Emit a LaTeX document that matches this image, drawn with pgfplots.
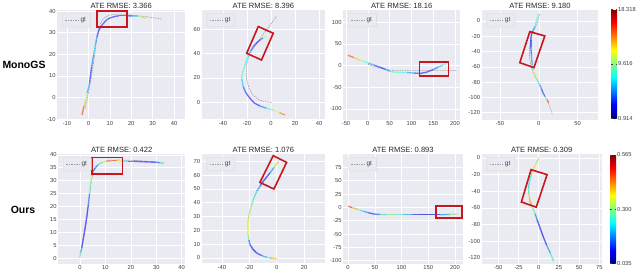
\documentclass[border=0pt]{standalone}
\usepackage{fontspec}
\setmainfont{Liberation Sans}
\usepackage{pgfplots}
\pgfplotsset{compat=1.18}
\definecolor{sbbg}{HTML}{EAEAF2}
\definecolor{tickc}{HTML}{404040}
\definecolor{rectred}{HTML}{C8161E}
\pgfplotsset{
  traj/.style={
    scale only axis, anchor=north west,
    axis background/.style={fill=sbbg},
    grid=major, major grid style={white, line width=0.5bp},
    axis line style={draw=none},
    major tick length=0pt,
    tick label style={font=\fontsize{5.8}{6}\selectfont, text=tickc},
    /pgf/number format/assume math mode=true,
    xticklabel style={inner sep=1.5bp},
    yticklabel style={inner sep=1.5bp},
    every axis title/.style={font=\fontsize{7.6}{8}\selectfont, text=black!85, at={(0.5,1)}, anchor=south, inner sep=1.2bp},
    colormap/jet, point meta min=0, point meta max=1,
    legend style={at={(0,1)}, xshift=5bp, yshift=-3.5bp, anchor=north west, font=\fontsize{6.4}{7}\selectfont, text=tickc, fill=sbbg, draw=black!15, rounded corners=1.2bp, inner xsep=2.5bp, inner ysep=2bp},
    legend cell align=left,
    legend image code/.code={\draw[#1] (0bp,0bp) -- (13bp,0bp);},
    clip=false,
  },
  est/.style={mesh, point meta=explicit, line width=1.35bp, opacity=0.55, forget plot},
  gt/.style={color=gray!75, line width=0.6bp, dash pattern=on 1.5bp off 1bp},
  box/.style={draw=rectred, line width=1.6bp, line join=miter, forget plot},
  cbar/.style={hide axis, scale only axis, width=1bp, height=109bp, anchor=north east,
    xmin=0, xmax=1, ymin=0, ymax=1, colormap/jet, colorbar,
    colorbar shift/.style={},
    colorbar style={at={(parent axis.north east)}, anchor=north west,
      width=6bp, height=109bp, scale only axis,
      yticklabel style={font=\fontsize{5.8}{6}\selectfont, text=tickc, inner sep=1bp},
      /pgf/number format/assume math mode=true,
      major tick length=1.5bp, tick style={draw=tickc, line width=0.4bp}, axis line style={draw=none}}},
}
\begin{document}
\begin{tikzpicture}
\useasboundingbox (0bp,0bp) rectangle (640bp,-275bp);

\node[font=\bfseries\fontsize{10.5}{12}\selectfont] at (24bp,-65bp) {MonoGS};
\node[font=\bfseries\fontsize{10.5}{12}\selectfont] at (23bp,-210bp) {Ours};

% ---------------- Row 1, panel 1
\begin{axis}[traj, at={(57.3bp,-9.5bp)}, width=127.7bp, height=110bp,
  xmin=-14.5, xmax=45.1, ymin=-10.2, ymax=40.7,
  xtick={-10,0,10,20,30,40}, ytick={-10,0,10,20,30,40},
  title={ATE RMSE: 3.366}]
\addplot[gt] coordinates {(-1.5,-5) (0,2) (1.5,10) (3,20) (4,28) (5.5,34) (7,36.5) (9.6,38.1) (14.3,38.6) (20.5,38.1) (26.8,37.4) (34.3,36.3)};
\addlegendentry{gt}
\addplot[est] table[meta=c] {
x y c
-3 -8 0.9
-2 -4 0.75
-1.2 -1 0.62
-0.5 2 0.4
0.5 6.5 0.15
1.5 14 0.15
2.5 20 0.3
3.2 24 0.35
4 28 0.2
4.9 31.2 0.12
6.4 33.5 0.12
8 35.4 0.15
9.6 36.6 0.15
12 37.4 0.15
14.3 37.8 0.15
18 37.8 0.15
21 37.7 0.2
23 37.6 0.4
25 37.2 0.6
26.8 36.6 0.75
};
\addplot[box] coordinates {(3.9,40) (18,40) (18,32.5) (3.9,32.5)} -- cycle;
\end{axis}

% ---------------- Row 1, panel 2
\begin{axis}[traj, at={(201.7bp,-9.5bp)}, width=123.3bp, height=110bp,
  xmin=-57.7, xmax=45, ymin=-14.1, ymax=76.3,
  xtick={-40,-20,0,20,40}, ytick={0,20,40,60},
  title={ATE RMSE: 8.396}]
\addplot[gt] coordinates {(0.5,0) (-5,0.5) (-10,2) (-15,6) (-18.5,12) (-20.5,20) (-20.5,30) (-18.5,38) (-15,44) (-10,51) (-5,58) (0,64.5) (4.75,71)};
\addlegendentry{gt}
\addplot[est] table[meta=c] {
x y c
11.7 -10.4 0.85
7 -8.5 0.7
1.9 -6.3 0.5
-4 -4.8 0.3
-9.2 -3 0.15
-14 -0.5 0.12
-17.5 3.3 0.12
-21 8 0.15
-23.1 12.8 0.2
-24.4 19.7 0.4
-23.5 25 0.45
-21.7 30.6 0.4
-18.9 38.9 0.35
-16.8 42.5 0.25
-14.75 45.7 0.15
-12 48.8 0.12
-9.2 51.2 0.12
-6.5 53 0.3
-3.6 54.5 0.8
};
\addplot[box] coordinates {(-20.25,40.3) (-10.6,62.3) (1.9,56.8) (-7.9,34.8)} -- cycle;
\end{axis}

% ---------------- Row 1, panel 3
\begin{axis}[traj, at={(343.3bp,-9.5bp)}, width=116.7bp, height=110bp,
  xmin=-56.2, xmax=211.5, ymin=-124.2, ymax=129.5,
  xtick={-50,0,50,100,150,200}, ytick={-100,-50,0,50,100},
  title={ATE RMSE: 18.16}]
\addplot[gt] coordinates {(0,3) (25,-5) (50,-10) (70,-11.5) (204,-11.5)};
\addlegendentry{gt}
\addplot[est] table[meta=c] {
x y c
-45.7 24 0.9
-32 18.5 0.75
-17.7 12.5 0.62
-8 9 0.45
1.4 6 0.35
15 1 0.2
28 -3.5 0.12
40 -8.5 0.15
51 -13 0.35
62 -15 0.45
74 -15.5 0.45
90 -16 0.35
105 -17 0.2
120 -18 0.12
135 -15 0.12
150 -9 0.15
162 -3 0.25
172 1.5 0.4
180 5 0.5
};
\addplot[box] coordinates {(118.3,8.5) (185,8.5) (185,-23.7) (118.3,-23.7)} -- cycle;
\end{axis}

% ---------------- Row 1, panel 4
\begin{axis}[traj, at={(481.7bp,-9.5bp)}, width=116.6bp, height=110bp,
  xmin=-73.5, xmax=76.5, ymin=-128.9, ymax=15,
  xtick={-50,0,50}, ytick={-120,-100,-80,-60,-40,-20,0},
  title={ATE RMSE: 9.180}]
\addplot[gt] coordinates {(1,9) (-2,-3) (-6,-12) (-10,-20) (-12,-35) (-12,-48) (-10,-60) (-6,-70) (0,-82) (6,-95) (12,-106) (17.6,-123)};
\addlegendentry{gt}
\addplot[est] table[meta=c] {
x y c
-0.9 9.2 0.5
-3 1 0.45
-5.1 -7.5 0.35
-8 -13 0.2
-9.4 -16 0.12
-10.3 -25 0.12
-10.3 -33.6 0.15
-9.5 -45 0.2
-8.6 -57.3 0.3
-7 -64 0.55
-5.1 -70 0.62
-2 -77 0.5
1.3 -83.5 0.35
3.5 -89 0.2
5.5 -94.4 0.15
8 -99 0.3
10.7 -103 0.75
12.5 -107 0.9
};
\addplot[box] coordinates {(-11.6,-14) (7.7,-19.6) (-6.3,-61) (-24.5,-54.6)} -- cycle;
\end{axis}

% colorbar row 1
\begin{axis}[cbar, at={(611bp,-9.3bp)}, point meta min=0.914, point meta max=18.318,
  colorbar style={ytick={0.914,9.616,18.318}, yticklabels={0.914,9.616,18.318}}]
\addplot[draw=none] coordinates {(0,0)};
\end{axis}

% ---------------- Row 2, panel 1
\begin{axis}[traj, at={(58.3bp,-153.5bp)}, width=126.7bp, height=110bp,
  xmin=-8.5, xmax=41.3, ymin=-2.1, ymax=40.5,
  xtick={0,10,20,30,40}, ytick={0,5,10,15,20,25,30,35,40},
  title={ATE RMSE: 0.422}]
\addplot[gt] coordinates {(0,0) (1,5) (2.3,12) (3.5,22) (4.5,30) (5.5,34) (7.5,36.6) (11,37.9) (16,38) (24,37.7) (30,37.3) (33,36.8)};
\addlegendentry{gt}
\addplot[est] table[meta=c] {
x y c
-0.3 0.3 0.6
0.2 2 0.4
0.7 3.9 0.15
1.3 7.5 0.12
2 11.6 0.12
2.7 16 0.12
3.3 20.7 0.15
3.8 25 0.3
4.2 29.7 0.6
4.6 31.8 0.55
5.2 33.6 0.2
6 35 0.15
7.2 36.2 0.35
8.8 37 0.5
10.5 37.5 0.7
12.5 37.7 0.85
14.4 37.7 0.8
17 37.6 0.5
19 37.5 0.2
21 37.5 0.12
25 37.3 0.12
30 37.1 0.15
31.5 36.9 0.3
33 36.5 0.45
};
\addplot[box] coordinates {(4.8,39) (16.7,39) (16.7,32.6) (4.8,32.6)} -- cycle;
\end{axis}

% ---------------- Row 2, panel 2
\begin{axis}[traj, at={(201.7bp,-153.5bp)}, width=123.3bp, height=110bp,
  xmin=-54.7, xmax=35.3, ymin=-4, ymax=75.6,
  xtick={-40,-20,0,20}, ytick={0,10,20,30,40,50,60,70},
  title={ATE RMSE: 1.076}]
\addplot[gt] coordinates {(0,-1) (-7,0.3) (-14,3) (-19,9) (-21,17) (-21,26) (-19.5,35) (-16,45) (-11,53) (-5,61) (1.5,70)};
\addlegendentry{gt}
\addplot[est] table[meta=c] {
x y c
0 -0.5 0.85
-3.5 0 0.5
-7.3 0.5 0.4
-11 1.8 0.2
-14.6 3.6 0.12
-17.5 6.5 0.12
-19.5 9.6 0.15
-20.3 13 0.3
-20.7 16.9 0.6
-20.9 21 0.62
-20.7 26.6 0.6
-19.7 32 0.55
-18.2 38.7 0.5
-16.5 43.5 0.4
-14.6 48.4 0.35
-12 52.3 0.2
-9.8 55.6 0.12
-7.3 58.7 0.12
-4.9 61.6 0.15
-2 65.5 0.4
1.2 70 0.75
};
\addplot[box] coordinates {(-12.2,54.7) (-2.5,74) (7.3,69.2) (-2,49.9)} -- cycle;
\end{axis}

% ---------------- Row 2, panel 3
\begin{axis}[traj, at={(343.3bp,-153.5bp)}, width=119.4bp, height=110bp,
  xmin=-8.8, xmax=214.4, ymin=-105.2, ymax=100.9,
  xtick={0,50,100,150,200}, ytick={-100,-75,-50,-25,0,25,50,75},
  title={ATE RMSE: 0.893}]
\addplot[gt] coordinates {(0,2) (20,-4.5) (45,-12) (80,-13.8) (205,-13)};
\addlegendentry{gt}
\addplot[est] table[meta=c] {
x y c
1.2 1.9 0.9
8 -0.5 0.75
16.8 -3.2 0.62
23 -5.5 0.45
29 -7.5 0.35
38 -10 0.2
48 -12.5 0.12
60 -13.5 0.3
72.7 -13.8 0.55
88 -13.8 0.5
103.6 -13.8 0.4
120 -13.8 0.2
134.7 -13.8 0.12
150 -13.8 0.12
172 -13.8 0.15
190 -13.2 0.4
203 -12.5 0.62
};
\addplot[box] coordinates {(164.8,3) (213,3) (213,-20) (164.8,-20)} -- cycle;
\end{axis}

% ---------------- Row 2, panel 4
\begin{axis}[traj, at={(481.7bp,-153.5bp)}, width=120bp, height=110bp,
  xmin=-70.5, xmax=78, ymin=-126.6, ymax=5.4,
  xtick={-50,-25,0,25,50,75}, ytick={-120,-100,-80,-60,-40,-20,0},
  title={ATE RMSE: 0.309}]
\addplot[gt] coordinates {(0,0) (-6,-12) (-11,-25) (-13,-38) (-11,-52) (-6,-63) (0,-78) (8,-100) (18.6,-124)};
\addlegendentry{gt}
\addplot[est] table[meta=c] {
x y c
0 -0.8 0.5
-3 -6 0.6
-6.2 -12 0.62
-8.5 -18 0.5
-10.3 -24 0.4
-11.8 -30 0.35
-12.4 -36 0.35
-12 -43 0.5
-11.1 -50 0.85
-9 -55 0.6
-7 -60 0.55
-4.5 -67 0.35
-2 -74 0.15
2 -85 0.12
6.2 -96 0.12
10 -105 0.2
14.4 -114 0.35
18.6 -124 0.5
};
\addplot[box] coordinates {(-9.4,-14) (10.4,-20) (-3,-59) (-21.4,-52.8)} -- cycle;
\end{axis}

% colorbar row 2
\begin{axis}[cbar, at={(610bp,-154.7bp)}, point meta min=0.035, point meta max=0.565,
  colorbar style={ytick={0.035,0.300,0.565}, yticklabels={0.035,0.300,0.565}}]
\addplot[draw=none] coordinates {(0,0)};
\end{axis}
\end{tikzpicture}
\end{document}
